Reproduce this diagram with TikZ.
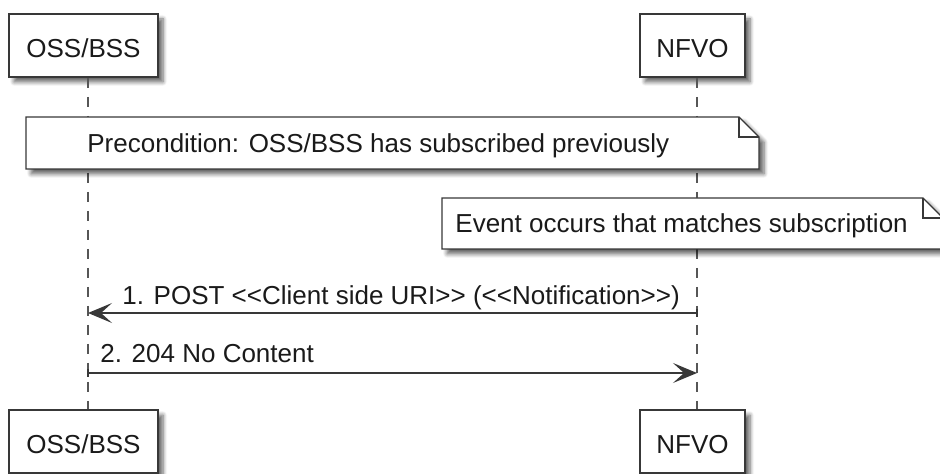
\documentclass[tikz,border=0pt]{standalone}
\usepackage{fontspec}
\setmainfont{Liberation Sans}
\usetikzlibrary{arrows.meta,shadows.blur}

\definecolor{edge}{HTML}{383838}
\definecolor{ink}{HTML}{1A1A1A}

% two "less than" / "greater than" signs kept apart so no ligature forms
\newcommand{\dlt}{<\kern0pt<}
\newcommand{\dgt}{>\kern0pt>}

\tikzset{
  base/.style={font=\fontsize{13pt}{15pt}\selectfont, text=ink},
  softshadow/.style={blur shadow={shadow xshift=2.5pt, shadow yshift=-2.5pt,
      shadow blur radius=2pt, shadow blur steps=6, shadow opacity=60}},
  pbox/.style={base, draw=edge, line width=0.9pt, fill=white, softshadow,
      minimum height=31.5pt, inner sep=0pt, text height=11.8pt, text depth=0pt},
  notebody/.style={draw=edge, line width=0.65pt, fill=white, softshadow},
  notefold/.style={draw=edge, line width=0.65pt},
  notetext/.style={base, anchor=base west, inner sep=0pt},
  lifeline/.style={draw=edge!85, line width=0.55pt, dash pattern=on 5pt off 4.5pt},
  msg/.style={draw=edge, line width=0.85pt,
      -{Stealth[length=12pt, width=10pt, inset=5.5pt]}},
  msglabel/.style={base, anchor=base west, inner sep=0pt},
}

\begin{document}
\begin{tikzpicture}[x=0.5pt, y=-0.5pt]
\useasboundingbox (0,0) rectangle (940,474);

% lifeline positions
\coordinate (ossL) at (88,0);
\coordinate (nfvoL) at (697,0);

% participant heads and feet
\node[pbox, minimum width=74.5pt] (ossTop) at (83.5,45.5) {OSS/BSS};
\node[pbox, minimum width=52.5pt] (nfvoTop) at (692.5,45.5) {NFVO};
\node[pbox, minimum width=74.5pt] (ossBot) at (83.5,441.5) {OSS/BSS};
\node[pbox, minimum width=52.5pt] (nfvoBot) at (692.5,441.5) {NFVO};

% lifelines
\draw[lifeline] (ossTop.south -| ossL) -- (ossBot.north -| ossL);
\draw[lifeline] (nfvoTop.south -| nfvoL) -- (nfvoBot.north -| nfvoL);

% note spanning both participants
\path[notebody] (26,117) -- (739,117) -- (759,137) -- (759,169) -- (26,169) -- cycle;
\draw[notefold] (739,117) -- (739,137) -- (759,137);
\node[notetext] (pre) at (87,152.5) {Precondition: OSS/BSS has subscribed previously};

% note over NFVO
\path[notebody] (442,198) -- (923,198) -- (943,218) -- (943,249) -- (442,249) -- cycle;
\draw[notefold] (923,198) -- (923,218) -- (943,218);
\node[notetext] (evt) at (455,233) {Event occurs that matches subscription};

% messages
\coordinate (m1a) at (nfvoL |- 0,313);
\coordinate (m1b) at (ossL |- 0,313);
\coordinate (m2a) at (ossL |- 0,373);
\coordinate (m2b) at (nfvoL |- 0,373);
\draw[msg] (m1a) -- (m1b);
\draw[msg] (m2a) -- (m2b);
\draw[edge, line width=0.75pt] ([yshift=-2pt]m1a) -- ([yshift=2pt]m1a);
\draw[edge, line width=0.75pt] ([yshift=-2pt]m2a) -- ([yshift=2pt]m2a);
\node[msglabel] (l1) at (122,305) {1. POST \dlt Client side URI\dgt{} (\dlt Notification\dgt)};
\node[msglabel] (l2) at (100,363) {2. 204 No Content};
\end{tikzpicture}
\end{document}
